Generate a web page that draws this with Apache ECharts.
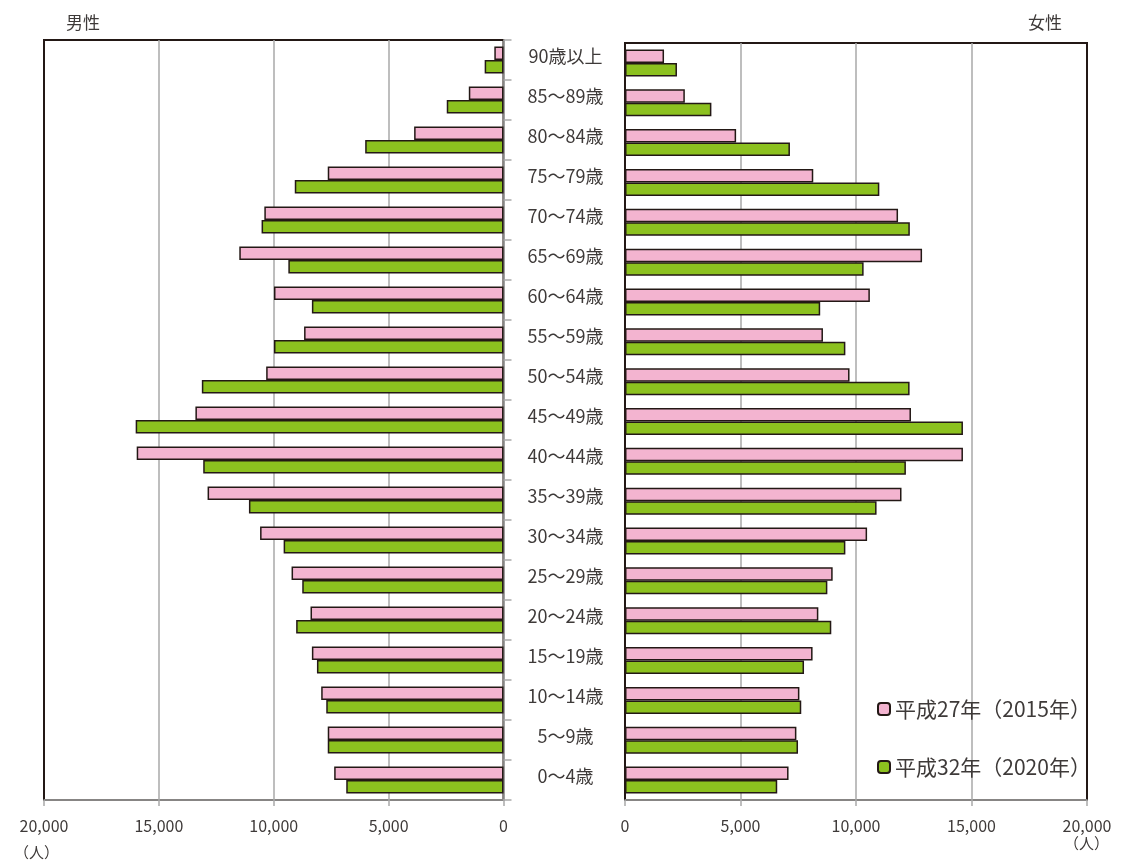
<!DOCTYPE html>
<html>
<head>
<meta charset="utf-8">
<script src="https://cdn.jsdelivr.net/npm/echarts@6/dist/echarts.min.js"></script>
<style>
  html, body { margin: 0; padding: 0; background: #fff; }
  #chart { width: 1123px; height: 864px; }
</style>
</head>
<body>
<div id="chart"></div>
<script>
// age groups, bottom to top
const ageGroups = ['0～4歳', '5～9歳', '10～14歳', '15～19歳', '20～24歳', '25～29歳', '30～34歳',
  '35～39歳', '40～44歳', '45～49歳', '50～54歳', '55～59歳', '60～64歳', '65～69歳',
  '70～74歳', '75～79歳', '80～84歳', '85～89歳', '90歳以上']

const male2015 = [7370, 7650, 7935, 8340, 8400, 9225, 10595, 12880, 15965, 13410,
  10330, 8680, 9990, 11500, 10410, 7650, 3890, 1510, 400]
const male2020 = [6845, 7650, 7715, 8120, 9025, 8760, 9570, 11080, 13070, 16010,
  13130, 9990, 8340, 9365, 10530, 9085, 6020, 2470, 820]
const female2015 = [7080, 7420, 7550, 8120, 8370, 8990, 10480, 11970, 14630, 12380,
  9720, 8570, 10600, 12860, 11820, 8150, 4810, 2590, 1690]
const female2020 = [6590, 7490, 7630, 7750, 8930, 8760, 9540, 10890, 12160, 14630,
  12320, 9540, 8450, 10330, 12330, 11010, 7140, 3740, 2250]

const xTicks = [0, 5000, 10000, 15000, 20000]
const seriesNames = ['平成27年（2015年）', '平成32年（2020年）']

const pink = '#F3B4D0'
const green = '#8CC11F'
const edge = '#231815'
const gridGray = '#a9a9a9'
const textColor = '#3e3a39'
const font = '"Noto Sans CJK JP", "Noto Sans", sans-serif'

const fmt = v => String(v).replace(/\B(?=(\d{3})+(?!\d))/g, ',')

const xAxisBase = {
  type: 'value',
  min: xTicks[0],
  max: xTicks[xTicks.length - 1],
  interval: 5000,
  axisLine: { show: true, lineStyle: { color: gridGray, width: 1.5 } },
  axisTick: { show: true, length: 6, lineStyle: { color: gridGray, width: 1.5 } },
  axisLabel: { color: textColor, fontSize: 16, fontFamily: font, margin: 18, formatter: fmt },
  splitLine: { show: true, showMinLine: false, showMaxLine: false, lineStyle: { color: gridGray, width: 1.5 } }
}

const barStyle = color => ({ color: color, borderColor: edge, borderWidth: 1.5 })

const chart = echarts.init(document.getElementById('chart'))
chart.setOption({
  animation: false,
  textStyle: { fontFamily: font },
  grid: [
    { left: 44, right: 1123 - 503.5, top: 40, bottom: 64, show: true, borderColor: edge, borderWidth: 2 },
    { left: 625, right: 36, top: 43, bottom: 64, show: true, borderColor: edge, borderWidth: 2 }
  ],
  xAxis: [
    Object.assign({}, xAxisBase, { gridIndex: 0, inverse: true }),
    Object.assign({}, xAxisBase, { gridIndex: 1 })
  ],
  yAxis: [
    {
      type: 'category', gridIndex: 0, position: 'right', data: ageGroups,
      axisLine: { show: true, lineStyle: { color: gridGray, width: 1.5 } },
      axisTick: { show: true, length: 8, lineStyle: { color: gridGray, width: 1.5 } },
      axisLabel: {
        align: 'center', margin: 62,
        // empty second line lifts the label a few pixels above the band centre
        formatter: v => '{a|' + v + '}\n{s|}',
        rich: {
          a: { color: textColor, fontSize: 18, fontFamily: font, lineHeight: 20 },
          s: { lineHeight: 8, height: 8 }
        }
      }
    },
    {
      type: 'category', gridIndex: 1, position: 'left', data: ageGroups,
      axisLine: { show: true, lineStyle: { color: edge, width: 2 } },
      axisTick: { show: false },
      axisLabel: { show: false }
    }
  ],
  legend: {
    orient: 'vertical',
    left: 872,
    top: 693,
    itemWidth: 12,
    itemHeight: 12,
    itemGap: 36,
    data: seriesNames,
    textStyle: { color: textColor, fontSize: 21, fontFamily: font, lineHeight: 22 }
  },
  graphic: [
    { type: 'text', left: 66, top: 14, style: { text: '男性', fill: textColor, fontSize: 17, fontFamily: font } },
    { type: 'text', left: 1028, top: 14, style: { text: '女性', fill: textColor, fontSize: 17, fontFamily: font } },
    { type: 'text', left: 14, top: 845, style: { text: '（人）', fill: textColor, fontSize: 15, fontFamily: font } },
    { type: 'text', left: 1064, top: 836, style: { text: '（人）', fill: textColor, fontSize: 15, fontFamily: font } }
  ],
  series: [
    { name: seriesNames[0], type: 'bar', xAxisIndex: 0, yAxisIndex: 0, data: male2015, barWidth: 13.5, barGap: '0%', itemStyle: barStyle(pink) },
    { name: seriesNames[1], type: 'bar', xAxisIndex: 0, yAxisIndex: 0, data: male2020, barWidth: 13.5, barGap: '0%', itemStyle: barStyle(green) },
    { name: seriesNames[0], type: 'bar', xAxisIndex: 1, yAxisIndex: 1, data: female2015, barWidth: 13.5, barGap: '0%', itemStyle: barStyle(pink) },
    { name: seriesNames[1], type: 'bar', xAxisIndex: 1, yAxisIndex: 1, data: female2020, barWidth: 13.5, barGap: '0%', itemStyle: barStyle(green) }
  ]
})
</script>
</body>
</html>
